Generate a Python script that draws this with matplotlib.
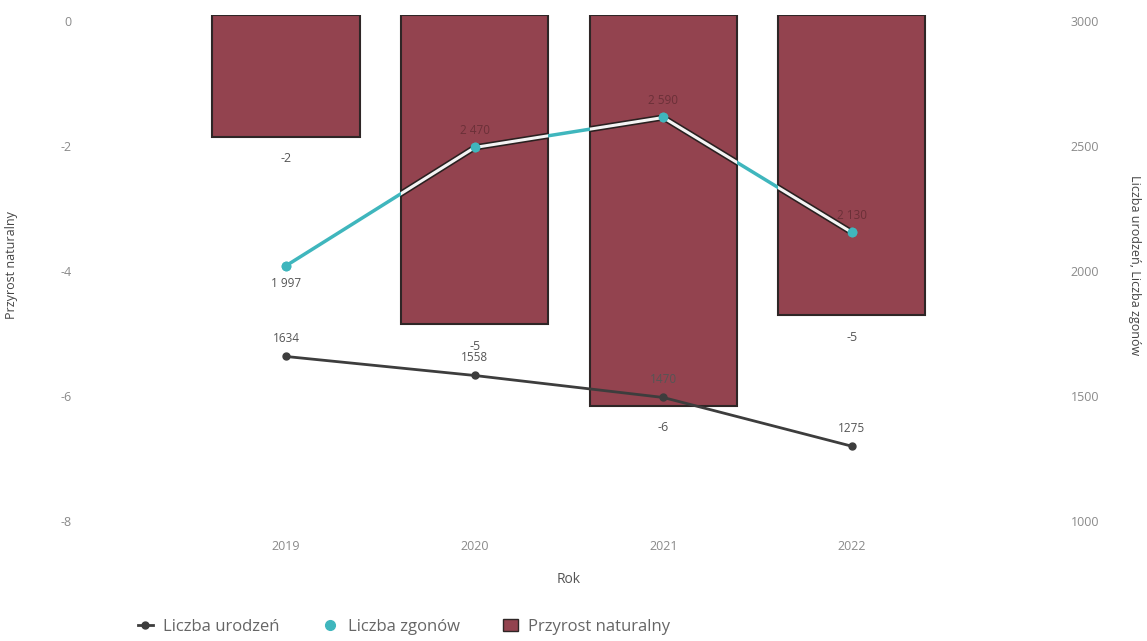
import matplotlib
matplotlib.use('Agg')
import matplotlib.pyplot as plt
import matplotlib.patheffects as pe
import matplotlib.transforms as mtransforms
from matplotlib.lines import Line2D
from matplotlib.patches import Patch
import numpy as np

plt.rcParams['font.family'] = ['Open Sans', 'DejaVu Sans']
plt.rcParams['axes.unicode_minus'] = False

lata = ['2019', '2020', '2021', '2022']
przyrost = [-1.95, -4.95, -6.25, -4.8]
urodzenia = [1634, 1558, 1470, 1275]
zgony = [1997, 2470, 2590, 2130]

bar_color = '#93434f'
dark = '#3d3d3d'
teal = '#3fb6bd'
grey = '#8a8a8a'

fig = plt.figure(figsize=(11.47, 6.41), dpi=100)
ax = fig.add_axes([0.0767, 0.1966, 0.8387, 0.78])
ax2 = ax.twinx()

x = np.arange(len(lata))
bars = ax.bar(x, przyrost, width=0.78, color=bar_color, edgecolor='#2e2626', linewidth=1.5, zorder=1)
for xi, v in zip(x, przyrost):
    ax.text(xi, v - 0.25, f'{round(v):d}', ha='center', va='top', fontsize=9, color='#555555')

ax.set_ylim(-8, 0)
ax.set_xlim(-1.05, 4.05)
ax.set_yticks([0, -2, -4, -6, -8])
ax.set_xticks(x)
ax.set_xticklabels(lata)
ax.set_xlabel('Rok', fontsize=10, color='#555555', labelpad=14)
ax.set_ylabel('Przyrost naturalny', fontsize=9, color='#444444')
ax.yaxis.set_label_coords(-0.073, 0.5)

ax2.set_ylim(1000, 3000)
ax2.set_yticks([1000, 1500, 2000, 2500, 3000])

ax2.plot(x, urodzenia, color=dark, linewidth=2, marker='o', markersize=5, zorder=3)
ax2.plot(x, zgony, color=teal, linewidth=2.5, marker='o', markersize=6, zorder=3)

# wewnątrz słupków linia zgonów wygląda na białą z ciemnym obrysem
for b in bars:
    ln, = ax2.plot(x, zgony, color='#f4f4f4', linewidth=2.2, zorder=4,
                   path_effects=[pe.Stroke(linewidth=4.5, foreground='#2a2020'), pe.Normal()])
    ln.set_clip_path(b)
ax2.plot(x, zgony, color=teal, linewidth=0, marker='o', markersize=6, zorder=5)

for xi, v in zip(x, urodzenia):
    ax2.text(xi, v + 45, f'{v}', ha='center', va='bottom', fontsize=8.5, color='#555555')
for xi, v in zip(x, zgony):
    s = f'{v:,}'.replace(',', ' ')
    if xi == 0:
        ax2.text(xi, v - 45, s, ha='center', va='top', fontsize=8.5, color='#555555')
    else:
        ax2.text(xi, v + 40, s, ha='center', va='bottom', fontsize=8.5, color='#6b3038')

ax2.set_ylabel('Liczba urodzeń, Liczba zgonów', fontsize=9, color='#444444', rotation=270,
               va='center', ha='center')
ax2.yaxis.set_label_coords(1.088, 0.5)

for a in (ax, ax2):
    for sp in a.spines.values():
        sp.set_visible(False)
    a.tick_params(length=0, labelsize=9, labelcolor=grey)
ax.tick_params(axis='y', pad=12)
ax2.tick_params(axis='y', pad=15)
ax.tick_params(axis='x', pad=18)

# etykiety osi Y lekko niżej, jak w oryginale
shift = mtransforms.ScaledTranslation(0, -6 / 100, fig.dpi_scale_trans)
for a in (ax, ax2):
    for lab in a.get_yticklabels():
        lab.set_transform(lab.get_transform() + shift)

# legenda
handles = [
    Line2D([0], [0], color=dark, marker='o', markersize=5, linewidth=2),
    Line2D([0], [0], color=teal, marker='o', markersize=7, linewidth=0),
    Patch(facecolor=bar_color, edgecolor='#2e2626'),
]
fig.legend(handles, ['Liczba urodzeń', 'Liczba zgonów', 'Przyrost naturalny'],
           loc='lower left', bbox_to_anchor=(0.107, -0.014), ncol=3, frameon=False,
           fontsize=12, labelcolor='#666666', handlelength=0.9, columnspacing=2.6,
           handletextpad=0.6)

fig.savefig('out.png', dpi=100)
